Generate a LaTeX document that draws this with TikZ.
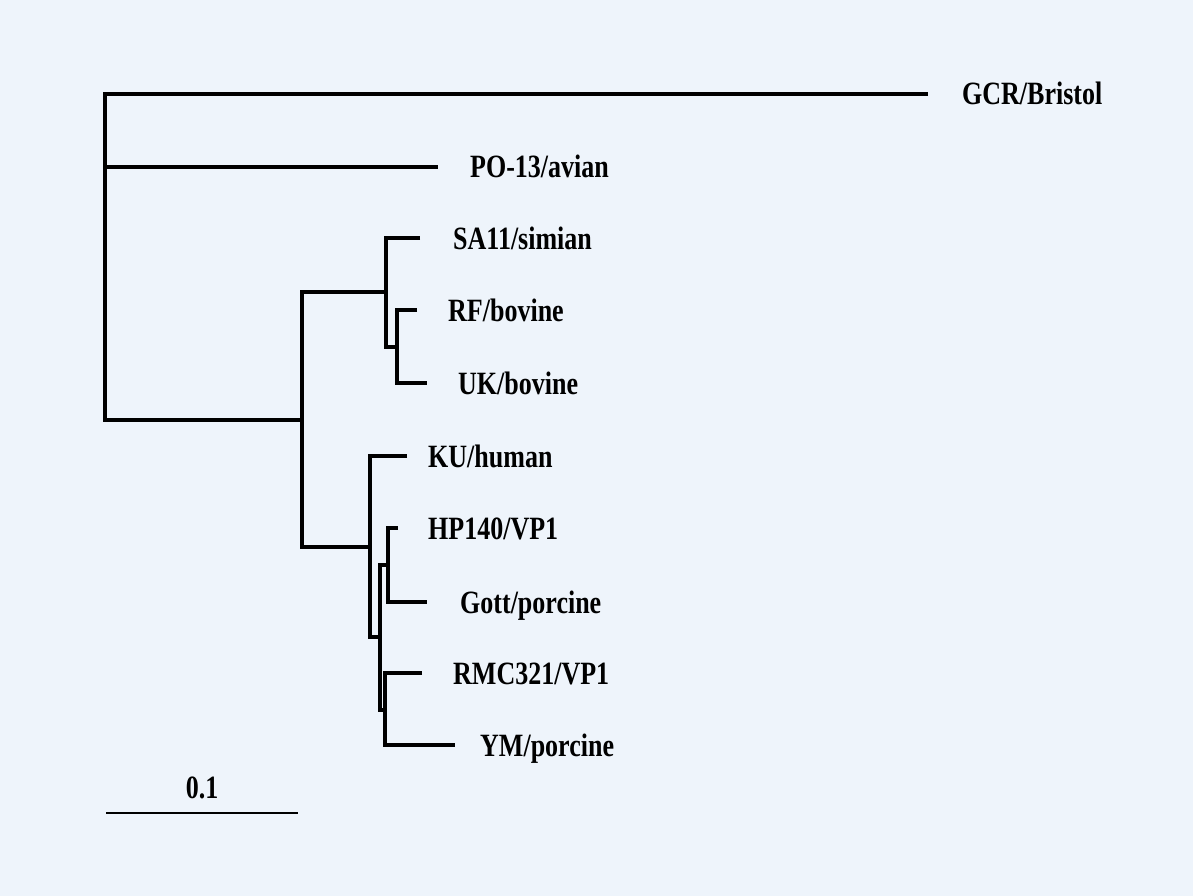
\documentclass[tikz,border=0pt]{standalone}
\usepackage{fontspec}
\setmainfont{Liberation Serif}
\definecolor{bgblue}{RGB}{238,244,251}
\tikzset{
  branch/.style={line width=3.3pt,line join=miter},
  taxon/.style={anchor=base west,inner sep=0pt,font=\fontsize{26}{30}\selectfont\bfseries,yscale=1.25}
}

\begin{document}
\begin{tikzpicture}[x=1pt,y=-1pt]
   \fill[bgblue] (0,0) rectangle (1193,896);
   \useasboundingbox (0,0) rectangle (1193,896);
   \def\up{11}
   % inner nodes
   \coordinate (root) at (105,420);
   \coordinate (n2) at (302,420);
   \coordinate (n3) at (386,292);
   \coordinate (n4) at (397,347);
   \coordinate (n5) at (370,547);
   \coordinate (n6) at (380,637);
   \coordinate (n7) at (388,565);
   \coordinate (n8) at (385,710);
   % tips
   \coordinate (gcr) at (928,94);
   \coordinate (po) at (438,167);
   \coordinate (sa) at (420,238);
   \coordinate (rf) at (417,310);
   \coordinate (uk) at (427,383);
   \coordinate (ku) at (407,456);
   \coordinate (hp) at (398,528);
   \coordinate (gott) at (427,602);
   \coordinate (rmc) at (422,673);
   \coordinate (ym) at (455,745);
   % labels
   \node[taxon] (Lgcr) at (962,94+\up) {GCR/Bristol};
   \node[taxon] (Lpo) at (470,167+\up) {PO-13/avian};
   \node[taxon] (Lsa) at (453,238+\up) {SA11/simian};
   \node[taxon] (Lrf) at (448,310+\up) {RF/bovine};
   \node[taxon] (Luk) at (458,383+\up) {UK/bovine};
   \node[taxon] (Lku) at (428,456+\up) {KU/human};
   \node[taxon] (Lhp) at (428,528+\up) {HP140/VP1};
   \node[taxon] (Lgott) at (460,602+\up) {Gott/porcine};
   \node[taxon] (Lrmc) at (453,673+\up) {RMC321/VP1};
   \node[taxon] (Lym) at (480,745+\up) {YM/porcine};
   % branches
   \draw[branch] (gcr) -| (root) -- (n2);
   \draw[branch] (root |- po) -- (po);
   \draw[branch] (n3) -| (n2) |- (n5);
   \draw[branch] (sa) -| (n3) |- (n4);
   \draw[branch] (rf) -| (n4) |- (uk);
   \draw[branch] (ku) -| (n5) |- (n6);
   \draw[branch] (n7) -| (n6) |- (n8);
   \draw[branch] (hp) -| (n7) |- (gott);
   \draw[branch] (rmc) -| (n8) |- (ym);
   % scale bar
   \coordinate (s0) at (106,813);
   \coordinate (s1) at (298,813);
   \draw[line width=2pt] (s0) -- (s1);
   \node[taxon,anchor=base] (Lscale) at (202,798) {0.1};
\end{tikzpicture}
\end{document}
